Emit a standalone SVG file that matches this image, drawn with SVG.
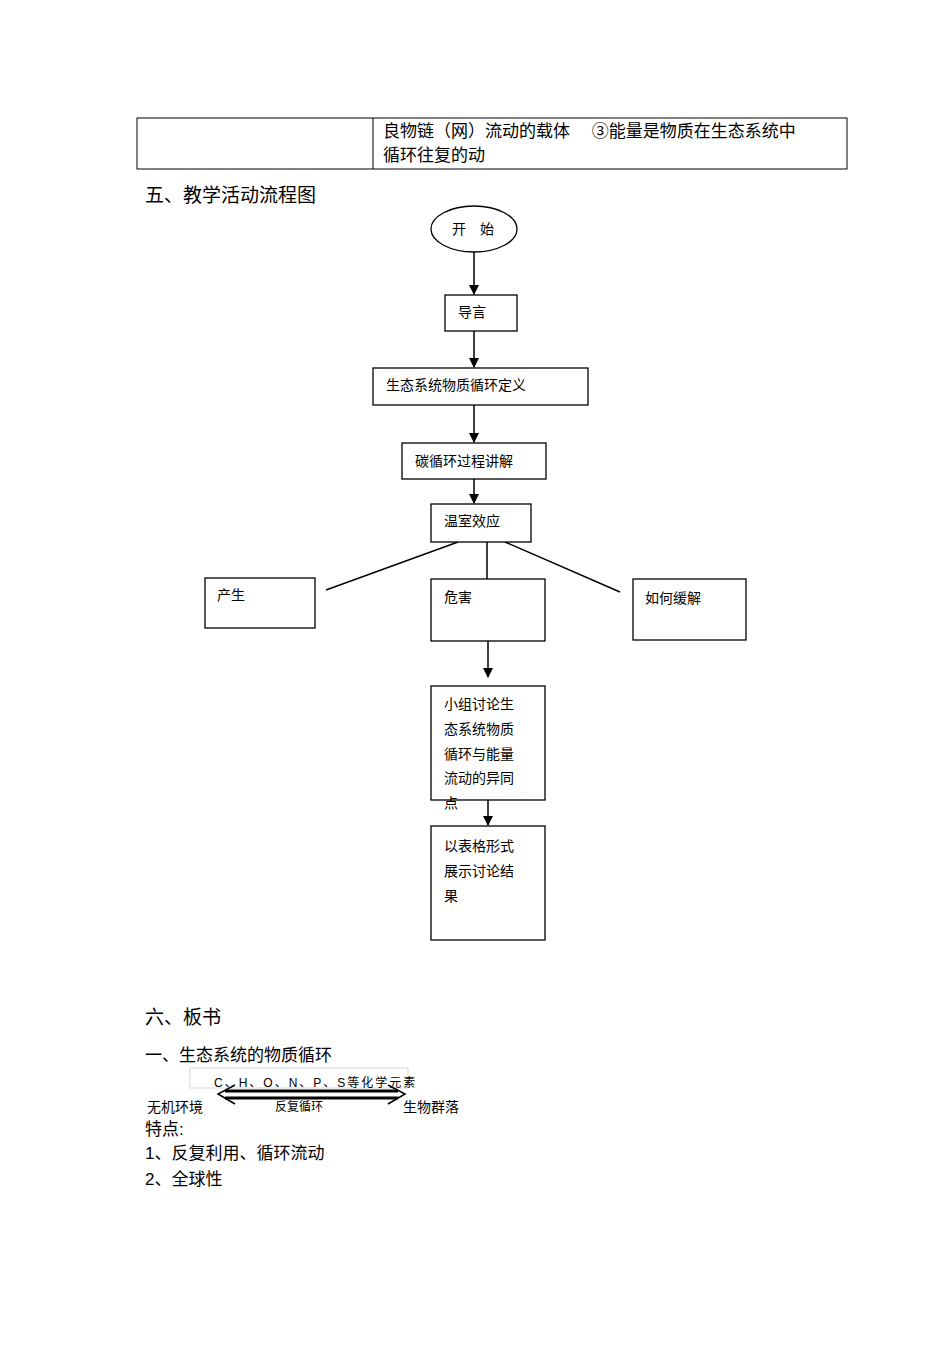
<svg xmlns="http://www.w3.org/2000/svg" width="950" height="1345" viewBox="0 0 950 1345">
<style>
text{font-family:"Liberation Sans","Noto Sans CJK SC",sans-serif;fill:#000}
.s{font-size:14px}.m{font-size:17px}.h{font-size:19px}.t{font-size:12px}
.b{fill:#fff;stroke:#000;stroke-width:1.3}
.c{stroke:#000;stroke-width:1.5;fill:none}
</style>
<defs><marker id="a" markerWidth="10" markerHeight="10" refX="9" refY="5" orient="auto" markerUnits="userSpaceOnUse"><path d="M0,0 L10,5 L0,10 z" fill="#000"/></marker></defs>
<rect x="137" y="118" width="710" height="51" fill="none" stroke="#000" stroke-width="1"/>
<line x1="373" y1="118" x2="373" y2="169" stroke="#000"/>
<text class="m" x="383" y="137">良物链（网）流动的载体　 ③能量是物质在生态系统中</text>
<text class="m" x="383" y="161">循环往复的动</text>
<text class="h" x="145" y="202">五、教学活动流程图</text>
<g id="connectors">
<line class="c" x1="474" y1="252" x2="474" y2="294" marker-end="url(#a)"/>
<line class="c" x1="474" y1="331" x2="474" y2="367" marker-end="url(#a)"/>
<line class="c" x1="474" y1="405" x2="474" y2="442" marker-end="url(#a)"/>
<line class="c" x1="474" y1="479" x2="474" y2="503" marker-end="url(#a)"/>
<line class="c" x1="458" y1="542" x2="326" y2="590"/>
<line class="c" x1="487" y1="542" x2="487" y2="579"/>
<line class="c" x1="505" y1="542" x2="620" y2="592"/>
<line class="c" x1="488" y1="641" x2="488" y2="677" marker-end="url(#a)"/>
<line class="c" x1="488" y1="800" x2="488" y2="825" marker-end="url(#a)"/>
</g>
<g id="start"><ellipse cx="474" cy="229" rx="43" ry="23" class="b"/><text class="s" x="452" y="234">开　始</text></g>
<g id="n1"><rect class="b" x="445" y="295" width="72" height="36"/><text class="s" x="458" y="317">导言</text></g>
<g id="n2"><rect class="b" x="373" y="368" width="215" height="37"/><text class="s" x="386" y="390">生态系统物质循环定义</text></g>
<g id="n3"><rect class="b" x="402" y="443" width="144" height="36"/><text class="s" x="415" y="466">碳循环过程讲解</text></g>
<g id="n4"><rect class="b" x="431" y="504" width="100" height="38"/><text class="s" x="444" y="526">温室效应</text></g>
<g id="n5"><rect class="b" x="205" y="578" width="110" height="50"/><text class="s" x="217" y="600">产生</text></g>
<g id="n6"><rect class="b" x="431" y="579" width="114" height="62"/><text class="s" x="444" y="602">危害</text></g>
<g id="n7"><rect class="b" x="633" y="579" width="113" height="61"/><text class="s" x="645" y="603">如何缓解</text></g>
<g id="n8"><rect class="b" x="431" y="686" width="114" height="114"/><text class="s" x="444" y="709">小组讨论生</text><text class="s" x="444" y="734">态系统物质</text><text class="s" x="444" y="759">循环与能量</text><text class="s" x="444" y="783">流动的异同</text><text class="s" x="444" y="808">点</text></g>
<g id="n9"><rect class="b" x="431" y="826" width="114" height="114"/><text class="s" x="444" y="851">以表格形式</text><text class="s" x="444" y="876">展示讨论结</text><text class="s" x="444" y="901">果</text></g>
<text class="h" x="145" y="1024">六、板书</text>
<text class="m" x="145" y="1061">一、生态系统的物质循环</text>
<rect x="190" y="1068" width="218" height="20" fill="none" stroke="#ccc" stroke-width="0.8"/>
<text class="t" x="214" y="1087" letter-spacing="2">C、H、O、N、P、S等化学元素</text>
<g id="cycle">
<line x1="225" y1="1091" x2="398" y2="1091" stroke="#000" stroke-width="3"/>
<line x1="225" y1="1098" x2="398" y2="1098" stroke="#000" stroke-width="3"/>
<path d="M235,1085 L218,1094 L235,1104" class="c" stroke-width="3"/>
<path d="M388,1085 L405,1094 L388,1104" class="c" stroke-width="3"/>
</g>
<text class="s" x="147" y="1112">无机环境</text>
<text class="t" x="275" y="1111">反复循环</text>
<text class="s" x="403" y="1112">生物群落</text>
<text class="m" x="145" y="1135">特点:</text>
<text class="m" x="145" y="1159">1、反复利用、循环流动</text>
<text class="m" x="145" y="1185">2、全球性</text>
</svg>
